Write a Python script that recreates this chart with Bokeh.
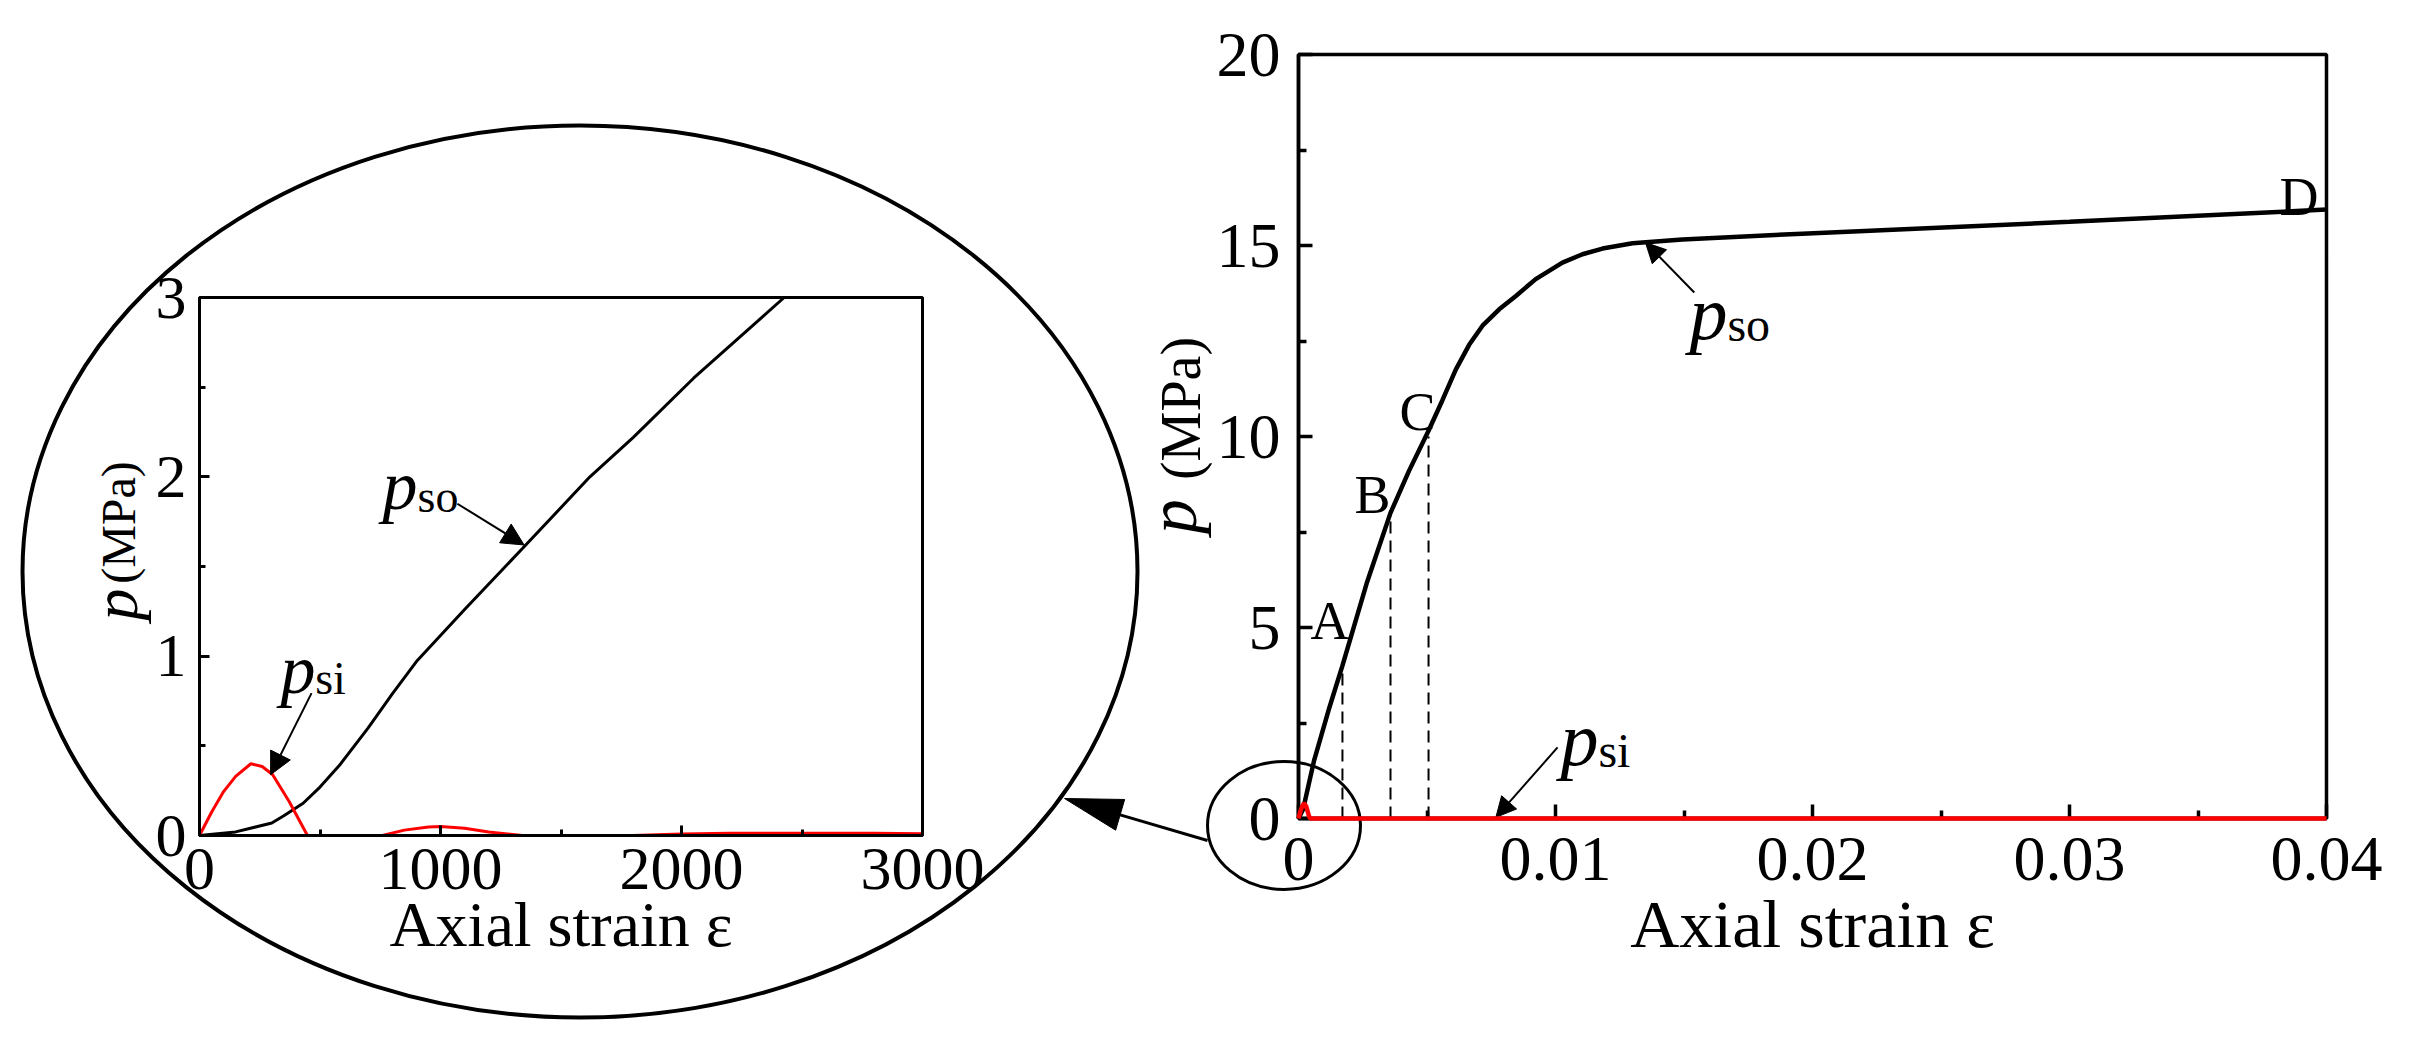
import numpy as np
from bokeh.plotting import figure
from bokeh.models import Range1d, FixedTicker, Arrow, NormalHead, LinearAxis
from bokeh.core.properties import value
from bokeh.embed import file_html
from bokeh.resources import INLINE

nan = float("nan")

# ---------------- data ----------------
# Main chart: axial strain (-) vs pressure p (MPa)
main_eps = [0, 0.00018, 0.00060, 0.0012, 0.00171, 0.00265, 0.00358, 0.00430, 0.00506,
            0.0056, 0.00612, 0.00664, 0.00716, 0.00781, 0.00846, 0.00923, 0.01027,
            0.01105, 0.01183, 0.0130, 0.01494, 0.0196, 0.030, 0.040]
main_p_so = [0, 0.24, 1.5, 2.9, 4.0, 6.15, 8.0, 9.1, 10.15,
             10.95, 11.75, 12.4, 12.9, 13.33, 13.68, 14.12, 14.55,
             14.77, 14.92, 15.06, 15.16, 15.31, 15.62, 15.94]
main_eps_si = [0, 0.0001, 0.00021, 0.0003, 0.0004, 0.00045, 0.040]
main_p_si = [0, 0.25, 0.40, 0.32, 0.08, 0, 0]
stage_names = ["A", "B", "C"]
stage_eps = [0.00171, 0.00358, 0.00506]
stage_p = [4.0, 8.0, 10.0]
main_x_ticks = [0, 0.01, 0.02, 0.03, 0.04]
main_x_labels = ["0", "0.01", "0.02", "0.03", "0.04"]
main_x_minor = [0.005, 0.015, 0.025, 0.035]
main_y_ticks = [0, 5, 10, 15, 20]
main_y_minor = [2.5, 7.5, 12.5, 17.5]

# Inset: axial strain (micro-strain) vs pressure p (MPa)
inset_eps_so = [0, 150, 300, 350, 430, 500, 580, 700, 800, 900, 1100, 1340, 1620, 1800, 2050, 2426]
inset_p_so = [0, 0.02, 0.07, 0.11, 0.18, 0.27, 0.39, 0.60, 0.79, 0.97, 1.26, 1.60, 2.0, 2.22, 2.55, 3.0]
inset_eps_si = [0, 50, 100, 150, 213, 260, 303, 372, 420, 448, nan,
                759, 850, 950, 1000, 1100, 1200, 1340, nan,
                1797, 2000, 2200, 2500, 2800, 3000]
inset_p_si = [0, 0.13, 0.245, 0.33, 0.40, 0.385, 0.34, 0.19, 0.07, 0, nan,
              0, 0.03, 0.048, 0.05, 0.04, 0.02, 0, nan,
              0, 0.008, 0.012, 0.013, 0.012, 0.01]
inset_x_ticks = [0, 1000, 2000, 3000]
inset_x_minor = [500, 1500, 2500]
inset_y_ticks = [0, 1, 2, 3]
inset_y_minor = [0.5, 1.5, 2.5]

# ---------------- layout constants (page pixels; canvas starts at 8,8) ----------------
W, H = 2396, 1040
X0, Y0 = 8, 8
FONT = "Liberation Serif"
MAIN_L, MAIN_R, MAIN_T, MAIN_B = 1306, 2334, 62, 826     # main plot box
INS_L, INS_R, INS_T, INS_B = 207, 930, 305, 843          # inset plot box


def span(lo_px, hi_px, lo_v, hi_v, a_px, b_px):
    """value range whose ends fall on page pixels a_px, b_px"""
    k = (hi_v - lo_v) / (hi_px - lo_px)
    return lo_v + (a_px - lo_px) * k, lo_v + (b_px - lo_px) * k


mx0, mx1 = span(MAIN_L, MAIN_R, main_x_ticks[0], main_x_ticks[-1], X0, X0 + W)
my0, my1 = span(MAIN_B, MAIN_T, main_y_ticks[0], main_y_ticks[-1], Y0 + H, Y0)
ix0, ix1 = span(INS_L, INS_R, inset_x_ticks[0], inset_x_ticks[-1], X0, X0 + W)
iy0, iy1 = span(INS_B, INS_T, inset_y_ticks[0], inset_y_ticks[-1], Y0 + H, Y0)

p = figure(width=W, height=H, x_range=Range1d(mx0, mx1), y_range=Range1d(my0, my1),
           x_axis_type=None, y_axis_type=None, output_backend="svg",
           toolbar_location=None, min_border=0)
try:
    p.title = None
except Exception:
    p.title.visible = False
p.outline_line_color = None
p.background_fill_color = "white"
p.border_fill_color = "white"
p.extra_x_ranges = {"ins_x": Range1d(ix0, ix1), "px_x": Range1d(X0, X0 + W)}
p.extra_y_ranges = {"ins_y": Range1d(iy0, iy1), "px_y": Range1d(Y0 + H, Y0)}
INS = dict(x_range_name="ins_x", y_range_name="ins_y")
PX = dict(x_range_name="px_x", y_range_name="px_y")


def make_axis(ticks, minor, bounds, loc, lw, maj_in, min_in, fs, standoff, **rng):
    ax = LinearAxis(ticker=FixedTicker(ticks=ticks, minor_ticks=minor), bounds=bounds,
                    fixed_location=loc, **rng)
    ax.axis_line_width = lw
    ax.axis_line_color = "black"
    ax.major_tick_in = maj_in
    ax.major_tick_out = 0
    ax.minor_tick_in = min_in
    ax.minor_tick_out = 0
    ax.major_tick_line_width = lw
    ax.minor_tick_line_width = lw
    ax.major_tick_line_color = "black"
    ax.minor_tick_line_color = "black"
    ax.major_label_text_font = FONT
    ax.major_label_text_font_size = fs
    ax.major_label_text_color = "black"
    ax.major_label_standoff = standoff
    ax.axis_label_text_font = FONT
    ax.axis_label_text_font_style = "normal"
    ax.axis_label_text_color = "black"
    return ax


def title_axis(text, style, size, center, half, standoff, **rng):
    """a bare left axis that only carries a (rotated) title centred on `center`"""
    ax = LinearAxis(ticker=FixedTicker(ticks=[], minor_ticks=[]),
                    bounds=(center - half, center + half), fixed_location=0, **rng)
    ax.axis_line_color = None
    ax.major_tick_line_color = None
    ax.minor_tick_line_color = None
    ax.major_tick_in = 0
    ax.major_tick_out = 0
    ax.minor_tick_in = 0
    ax.minor_tick_out = 0
    ax.major_label_text_font_size = "0px"
    ax.major_label_standoff = 0
    ax.axis_label = text
    ax.axis_label_text_font = FONT
    ax.axis_label_text_font_style = style
    ax.axis_label_text_font_size = size
    ax.axis_label_text_color = "black"
    ax.axis_label_standoff = standoff
    p.add_layout(ax, "left")


# ---------------- decorations: magnifier ellipses, connector arrow ----------------
p.ellipse(x=[587.5], y=[579], width=[1115], height=[892], fill_color=None,
          line_color="black", line_width=4, **PX)
p.ellipse(x=[1291.5], y=[833], width=[153], height=[128], fill_color=None,
          line_color="black", line_width=3, **PX)
tail = np.array([1215.0, 848.0])
tip = np.array([1072.0, 806.0])
d = (tip - tail) / np.linalg.norm(tip - tail)
nrm = np.array([-d[1], d[0]])
base = tip - d * 58
p.line([tail[0], base[0]], [tail[1], base[1]], line_color="black", line_width=3, **PX)
tri = [tip, base + nrm * 16, base - nrm * 16]
p.patch([q[0] for q in tri], [q[1] for q in tri], fill_color="black", line_color="black", **PX)

# ---------------- main chart ----------------
p.quad(left=[main_x_ticks[0]], right=[main_x_ticks[-1]], bottom=[main_y_ticks[0]],
       top=[main_y_ticks[-1]], fill_color=None, line_color="black", line_width=3.5)
ax_mx = make_axis(main_x_ticks, main_x_minor, (main_x_ticks[0], main_x_ticks[-1]), 0,
                  3.5, 14, 8, "64px", 19)
ax_mx.major_label_overrides = dict(zip(main_x_ticks, main_x_labels))
ax_mx.axis_label = "Axial strain ε"
ax_mx.axis_label_text_font_size = "68px"
ax_mx.axis_label_standoff = 3
p.add_layout(ax_mx, "below")
ax_my = make_axis(main_y_ticks, main_y_minor, (main_y_ticks[0], main_y_ticks[-1]), 0,
                  3.5, 14, 8, "64px", 18)
p.add_layout(ax_my, "left")
# y title "p (MPa)": italic p and upright unit, each centred where the reference has it
title_axis("p", "italic", "70px", 7.91, 4.0, 88)
title_axis("(MPa)", "normal", "56px", 10.73, 4.0, 87)

p.segment(x0=stage_eps, y0=[0] * len(stage_eps), x1=stage_eps, y1=stage_p,
          line_color="black", line_width=2, line_dash="12 7")
p.line(main_eps, main_p_so, line_color="black", line_width=4.5)
p.line(main_eps_si, main_p_si, line_color="#ff0000", line_width=4.5, level="overlay")

p.text(x=[0.000467, 0.00218, 0.00393, 0.03817], y=[5.18, 8.46, 10.63, 16.26],
       text=stage_names + ["D"], text_font=value(FONT), text_font_size="54px",
       text_align="left", text_baseline="alphabetic", text_color="black")
p.text(x=[0.01521, 0.01019], y=[13.22, 2.07], text=["p", "p"], text_font=value(FONT),
       text_font_style="italic", text_font_size="76px", text_align="left",
       text_baseline="alphabetic", text_color="black")
p.text(x=[0.01669, 0.01167], y=[12.93, 1.78], text=["so", "si"], text_font=value(FONT),
       text_font_size="48px", text_align="left", text_baseline="alphabetic",
       text_color="black")
p.add_layout(Arrow(end=NormalHead(size=20, fill_color="black", line_color="black"),
                   x_start=0.0154, y_start=13.77, x_end=0.0135, y_end=15.08,
                   line_width=2, line_color="black"))
p.add_layout(Arrow(end=NormalHead(size=20, fill_color="black", line_color="black"),
                   x_start=0.01008, y_start=1.86, x_end=0.00768, y_end=0.03,
                   line_width=2, line_color="black"))

# ---------------- inset chart ----------------
p.quad(left=[inset_x_ticks[0]], right=[inset_x_ticks[-1]], bottom=[inset_y_ticks[0]],
       top=[inset_y_ticks[-1]], fill_color=None, line_color="black", line_width=3, **INS)
ax_ix = make_axis(inset_x_ticks, inset_x_minor, (inset_x_ticks[0], inset_x_ticks[-1]), 0,
                  3, 10, 6, "62px", 13, **INS)
ax_ix.axis_label = "Axial strain ε"
ax_ix.axis_label_text_font_size = "64px"
ax_ix.axis_label_standoff = -3
p.add_layout(ax_ix, "below")
ax_iy = make_axis(inset_y_ticks, inset_y_minor, (inset_y_ticks[0], inset_y_ticks[-1]), 0,
                  3, 10, 6, "62px", 13, **INS)
p.add_layout(ax_iy, "left")
title_axis("p", "italic", "64px", 1.288, 0.5, 49, **INS)
title_axis("(MPa)", "normal", "48px", 1.745, 0.5, 55, **INS)

p.line(inset_eps_so, inset_p_so, line_color="black", line_width=3, **INS)
p.line(np.array(inset_eps_si), np.array(inset_p_si), line_color="#ff0000", line_width=3, **INS)

p.text(x=[759, 336], y=[1.95, 0.928], text=["p", "p"], text_font=value(FONT),
       text_font_style="italic", text_font_size="70px", text_align="left",
       text_baseline="alphabetic", text_color="black", **INS)
p.text(x=[905, 480], y=[1.889, 0.878], text=["so", "si"], text_font=value(FONT),
       text_font_size="46px", text_align="left", text_baseline="alphabetic",
       text_color="black", **INS)
p.add_layout(Arrow(end=NormalHead(size=22, fill_color="black", line_color="black"),
                   x_start=1070, y_start=1.85, x_end=1347, y_end=1.62,
                   line_width=2, line_color="black", **INS))
p.add_layout(Arrow(end=NormalHead(size=22, fill_color="black", line_color="black"),
                   x_start=465, y_start=0.794, x_end=295, y_end=0.339,
                   line_width=2, line_color="black", **INS))

open("out.html", "w").write(file_html(p, INLINE))
